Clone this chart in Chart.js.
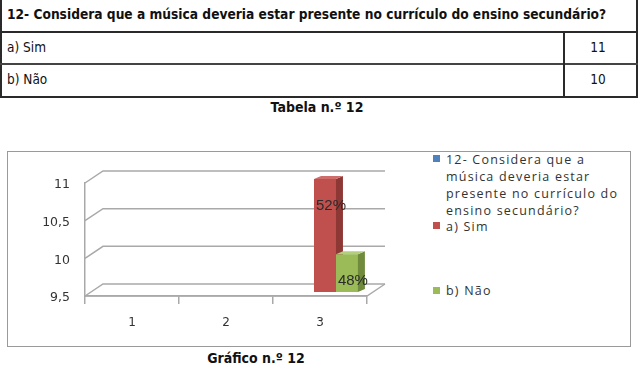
<!DOCTYPE html>
<html>
<head>
<meta charset="utf-8">
<script src="https://cdn.jsdelivr.net/npm/chart.js@4"></script>
<style>
  html, body { margin:0; padding:0; background:#fff; }
  body { width:638px; height:373px; position:relative; overflow:hidden; }
  .ln { position:absolute; background:#2a2a2a; }
  .t { position:absolute; font-family:"DejaVu Sans Condensed","DejaVu Sans",sans-serif; color:#111; white-space:nowrap; line-height:1; }
  #box { position:absolute; left:7px; top:151px; width:624px; height:196px; border:1px solid #9a9a9a; box-sizing:border-box; }
  #cvwrap { position:absolute; left:8px; top:152px; width:420px; height:194px; }
  #cv { display:block; }
  .lg { position:absolute; font-family:"Open Sans",sans-serif; font-size:12.5px; letter-spacing:1.2px; color:#333; line-height:17px; }
  .mk { position:absolute; width:7px; height:7px; }
</style>
</head>
<body>
<div id="tbl"></div>
<div id="box"></div>
<div id="cvwrap"><canvas id="cv" width="420" height="194"></canvas></div>
<div id="legend"></div>
<div class="t" id="cap1" style="left:0;width:634px;text-align:center;top:100px;font-weight:bold;font-size:14px;"></div>
<div class="t" id="cap2" style="left:156px;width:200px;text-align:center;top:351px;font-weight:bold;font-size:14px;"></div>
<script>
// ---- data ----
const question = '12- Considera que a música deveria estar presente no currículo do ensino secundário?';
const categories = ['1', '2', '3'];
const seriesNames = ['a) Sim', 'b) Não'];
const tableValues = [11, 10];
const questionValues = [null, null, null];
const simValues = [null, null, 11];
const naoValues = [null, null, 10];
const pctLabels = ['52%', '48%'];
const yTicks = [9.5, 10, 10.5, 11];
const captions = ['Tabela n.º 12', 'Gráfico n.º 12'];

// ---- table ----
const tbl = document.getElementById('tbl');
function line(l, t, w, h, c) {
  const d = document.createElement('div'); d.className = 'ln';
  d.style.left = l + 'px'; d.style.top = t + 'px'; d.style.width = w + 'px'; d.style.height = h + 'px';
  if (c) d.style.background = c;
  tbl.appendChild(d);
}
function text(s, l, t, size, bold, extra) {
  const d = document.createElement('div'); d.className = 't';
  d.textContent = s; d.style.left = l + 'px'; d.style.top = t + 'px';
  d.style.fontSize = size + 'px'; if (bold) d.style.fontWeight = 'bold';
  if (extra) Object.assign(d.style, extra);
  tbl.appendChild(d); return d;
}
line(0, 0, 2, 98);
line(636, 0, 2, 98);
line(0, 31, 638, 2);
line(0, 63, 638, 2, '#444');
line(0, 96, 638, 2);
line(563, 32, 2, 65);
text(question, 7, 8, 13.65, true);
seriesNames.forEach((n, i) => {
  text(n, 7, 41 + i * 32, 13.5, false);
  text(String(tableValues[i]), 565, 41 + i * 32, 13.5, false, { width: '66px', textAlign: 'center' });
});
document.getElementById('cap1').textContent = captions[0];
document.getElementById('cap2').textContent = captions[1];

// ---- legend ----
const legend = document.getElementById('legend');
const legendItems = [
  { text: question, color: '#4F81BD', top: 151, mk: 155 },
  { text: seriesNames[0], color: '#C0504D', top: 218, mk: 222 },
  { text: seriesNames[1], color: '#9BBB59', top: 282, mk: 287 }
];
legendItems.forEach(it => {
  const m = document.createElement('div'); m.className = 'mk';
  m.style.left = '433px'; m.style.top = it.mk + 'px'; m.style.background = it.color;
  legend.appendChild(m);
  const d = document.createElement('div'); d.className = 'lg';
  d.style.left = '446px'; d.style.top = it.top + 'px'; d.style.width = '182px';
  d.textContent = it.text;
  legend.appendChild(d);
});

// ---- chart ----
const DX = 18, DY = 12;   // back wall offset
const BX = 5, BY = 4;     // bar depth position
const SX = 7, SY = 3;     // bar side depth
const faceColors = {
  '#C0504D': { side: '#8E3836', top: '#CF6D6A' },
  '#9BBB59': { side: '#6F8B3B', top: '#B4CE80' },
  '#4F81BD': { side: '#375E8D', top: '#7199CA' }
};
const threeD = {
  id: 'threeD',
  beforeDatasetsDraw(chart) {
    const { ctx, chartArea: { left, right, bottom }, scales: { y } } = chart;
    ctx.save();
    ctx.strokeStyle = '#a9a9a9'; ctx.lineWidth = 1.5;
    yTicks.forEach(v => {
      const py = y.getPixelForValue(v);
      ctx.beginPath(); ctx.moveTo(left, py); ctx.lineTo(left + DX, py - DY); ctx.lineTo(right + DX, py - DY); ctx.stroke();
    });
    ctx.beginPath(); ctx.moveTo(left, bottom); ctx.lineTo(right, bottom); ctx.lineTo(right + DX, bottom - DY); ctx.stroke();
    ctx.restore();
    ctx.save(); ctx.translate(BX, -BY);
  },
  afterDatasetsDraw(chart) {
    const ctx = chart.ctx;
    ctx.restore();
    chart.data.datasets.forEach((ds, di) => {
      const meta = chart.getDatasetMeta(di);
      meta.data.forEach((el, i) => {
        if (ds.data[i] == null) return;
        const p = el.getProps(['x', 'y', 'base', 'width'], true);
        const l = p.x - p.width / 2 + BX, r = p.x + p.width / 2 + BX;
        const t = p.y - BY, b = p.base - BY;
        ctx.save(); ctx.translate(BX, -BY); el.draw(ctx); ctx.restore();
        const fc = faceColors[ds.backgroundColor];
        ctx.fillStyle = fc.side;
        ctx.beginPath(); ctx.moveTo(r, t); ctx.lineTo(r + SX, t - SY); ctx.lineTo(r + SX, b - SY); ctx.lineTo(r, b); ctx.closePath(); ctx.fill();
        ctx.fillStyle = fc.top;
        ctx.beginPath(); ctx.moveTo(l, t); ctx.lineTo(l + SX, t - SY); ctx.lineTo(r + SX, t - SY); ctx.lineTo(r, t); ctx.closePath(); ctx.fill();
      });
    });
    // percentage labels
    ctx.save();
    ctx.font = '15px "Liberation Sans", sans-serif';
    ctx.fillStyle = '#2b2b2b'; ctx.textAlign = 'center'; ctx.textBaseline = 'middle';
    [1, 2].forEach((di, k) => {
      const meta = chart.getDatasetMeta(di);
      meta.data.forEach((el, i) => {
        if (chart.data.datasets[di].data[i] == null) return;
        ctx.fillText(pctLabels[k], el.x + BX + 6, el.y - BY + 27);
      });
    });
    ctx.restore();
  }
};

new Chart(document.getElementById('cv'), {
  type: 'bar',
  data: {
    labels: categories,
    datasets: [
      { label: question, data: questionValues, backgroundColor: '#4F81BD', base: yTicks[0] },
      { label: seriesNames[0], data: simValues, backgroundColor: '#C0504D', base: yTicks[0] },
      { label: seriesNames[1], data: naoValues, backgroundColor: '#9BBB59', base: yTicks[0] }
    ]
  },
  options: {
    responsive: false,
    maintainAspectRatio: false,
    animation: false,
    devicePixelRatio: 1,
    categoryPercentage: 0.7,
    barPercentage: 1,
    layout: { padding: { top: 31, right: 61, left: 0, bottom: 0 } },
    plugins: { legend: { display: false }, tooltip: { enabled: false } },
    scales: {
      x: {
        afterFit(s) { s.height = 50; },
        grid: { display: true, drawOnChartArea: false, drawTicks: true, tickLength: 8, color: '#a9a9a9', lineWidth: 1.5, offset: true },
        border: { display: true, color: '#a9a9a9', width: 1.5 },
        ticks: { padding: 12, color: '#333', font: { family: '"DejaVu Sans", sans-serif', size: 12 } }
      },
      y: {
        min: 9.5, max: 11,
        afterFit(s) { s.width = 77; },
        afterBuildTicks(s) { s.ticks = yTicks.map(v => ({ value: v })); },
        grid: { display: false, drawTicks: false },
        border: { display: true, color: '#a9a9a9', width: 1.5 },
        ticks: {
          padding: 15, color: '#333', labelOffset: 2,
          font: { family: '"DejaVu Sans", sans-serif', size: 12.5 },
          callback: v => String(v).replace('.', ',')
        }
      }
    }
  },
  plugins: [threeD]
});
</script>
</body>
</html>
